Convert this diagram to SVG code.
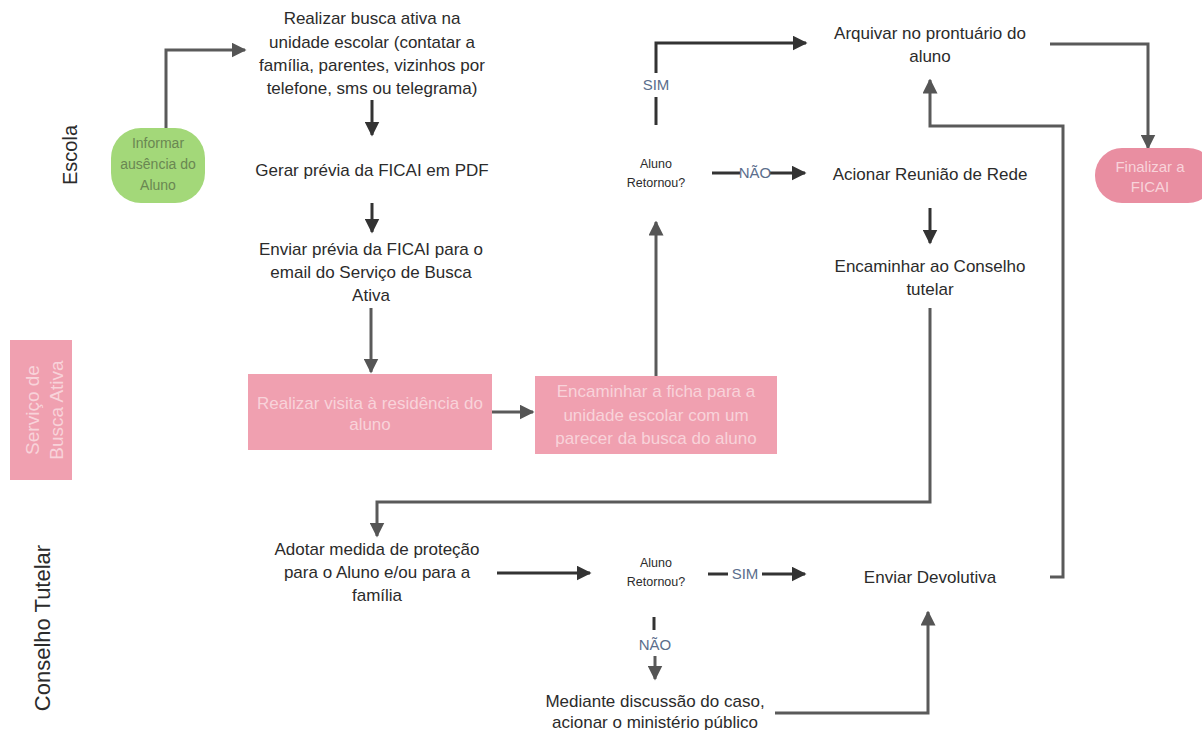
<svg xmlns="http://www.w3.org/2000/svg" width="1202" height="730" viewBox="0 0 1202 730">
<defs>
<marker id="ah" viewBox="0 0 10 10" refX="9" refY="5" markerWidth="5" markerHeight="5" orient="auto" markerUnits="strokeWidth">
<path d="M0,0 L10,5 L0,10 z" fill="#555"/>
</marker>
<marker id="ahd" viewBox="0 0 10 10" refX="9" refY="5" markerWidth="5" markerHeight="5" orient="auto" markerUnits="strokeWidth">
<path d="M0,0 L10,5 L0,10 z" fill="#333"/>
</marker>
<style>
text{font-family:"Liberation Sans","Open Sans",sans-serif;fill:#2b2b2b;text-anchor:middle}
.t{font-size:17px}
.s{font-size:12.5px}
.lane{font-size:20px}
.lbl{font-size:15px;fill:#5b6e8c}
.w{fill:#f8d3da;font-size:17px}
.g{fill:#6a8752;font-size:14px}
.c{fill:none;stroke:#5a5a5a;stroke-width:3;marker-end:url(#ah)}
.cd{fill:none;stroke:#333;stroke-width:3;marker-end:url(#ahd)}
.n{fill:none;stroke:#5a5a5a;stroke-width:3}
.nd{fill:none;stroke:#333;stroke-width:3}
.pink{fill:#f0a0b0}
</style>
</defs>
<rect width="1202" height="730" fill="#fff"/>

<g id="lanes">
<text class="lane" transform="translate(77,155) rotate(-90)">Escola</text>
<rect class="pink" x="10" y="340" width="62" height="140"/>
<text class="w" style="font-size:19px" transform="translate(39,410) rotate(-90)">Serviço de</text>
<text class="w" style="font-size:19px" transform="translate(63,410) rotate(-90)">Busca Ativa</text>
<text class="lane" style="font-size:22px" transform="translate(50,628) rotate(-90)">Conselho Tutelar</text>
</g>

<g id="connectors">
<path class="c" d="M166,128 V50 H245"/>
<path class="cd" d="M372,100 V135"/>
<path class="cd" d="M372,203 V232"/>
<path class="c" d="M371,308 V372"/>
<path class="c" d="M492,412 H533"/>
<path class="c" d="M656,376 V222"/>
<path class="nd" d="M656,125 V97"/>
<path class="cd" d="M656,73 V43 H806"/>
<path class="nd" d="M712,173 H740"/>
<path class="cd" d="M770,173 H805"/>
<path class="cd" d="M930,208 V243"/>
<path class="c" d="M930,308 V502 H377 V536"/>
<path class="c" d="M1050,44 H1148 V148"/>
<path class="c" d="M1050,577 H1063 V126 H930 V80"/>
<path class="cd" d="M497,573 H590"/>
<path class="nd" d="M708,574 H728"/>
<path class="cd" d="M762,574 H805"/>
<path class="nd" d="M654,617 V630"/>
<path class="c" d="M655,656 V679"/>
<path class="c" d="M775,713 H928 V612"/>
<text class="lbl" x="656" y="90">SIM</text>
<text class="lbl" x="755" y="178">NÃO</text>
<text class="lbl" x="745" y="579">SIM</text>
<text class="lbl" x="655" y="650">NÃO</text>
</g>

<g id="informar">
<rect x="111" y="128" width="94" height="75" rx="30" fill="#a3d879"/>
<text class="g" x="158" y="148">Informar</text>
<text class="g" x="158" y="169">ausência do</text>
<text class="g" x="158" y="190">Aluno</text>
</g>

<g id="busca">
<text class="t" x="372" y="24">Realizar busca ativa na</text>
<text class="t" x="372" y="48">unidade escolar (contatar a</text>
<text class="t" x="372" y="71">família, parentes, vizinhos por</text>
<text class="t" x="372" y="94">telefone, sms ou telegrama)</text>
</g>

<g id="gerar">
<text class="t" x="372" y="176">Gerar prévia da FICAI em PDF</text>
</g>

<g id="enviar">
<text class="t" x="371" y="255">Enviar prévia da FICAI para o</text>
<text class="t" x="371" y="278">email do Serviço de Busca</text>
<text class="t" x="371" y="301">Ativa</text>
</g>

<g id="visita">
<rect class="pink" x="248" y="374" width="244" height="76"/>
<text class="w" x="370" y="409">Realizar visita à residência do</text>
<text class="w" x="370" y="430">aluno</text>
</g>

<g id="encaminhar-ficha">
<rect class="pink" x="535" y="376" width="242" height="78"/>
<text class="w" x="656" y="397">Encaminhar a ficha para a</text>
<text class="w" x="656" y="421">unidade escolar com um</text>
<text class="w" x="656" y="444">parecer da busca do aluno</text>
</g>

<g id="decisao1">
<text class="s" x="656" y="168">Aluno</text>
<text class="s" x="656" y="187">Retornou?</text>
</g>

<g id="arquivar">
<text class="t" x="930" y="39">Arquivar no prontuário do</text>
<text class="t" x="930" y="62">aluno</text>
</g>

<g id="reuniao">
<text class="t" x="930" y="180">Acionar Reunião de Rede</text>
</g>

<g id="conselho">
<text class="t" x="930" y="272">Encaminhar ao Conselho</text>
<text class="t" x="930" y="295">tutelar</text>
</g>

<g id="finalizar">
<rect x="1095" y="148" width="120" height="55" rx="27" fill="#e98ea1"/>
<text class="w" style="font-size:15px" x="1150" y="172">Finalizar a</text>
<text class="w" style="font-size:15px" x="1150" y="192">FICAI</text>
</g>

<g id="adotar">
<text class="t" x="377" y="555">Adotar medida de proteção</text>
<text class="t" x="377" y="578">para o Aluno e/ou para a</text>
<text class="t" x="377" y="601">família</text>
</g>

<g id="decisao2">
<text class="s" x="656" y="567">Aluno</text>
<text class="s" x="656" y="586">Retornou?</text>
</g>

<g id="devolutiva">
<text class="t" x="930" y="583">Enviar Devolutiva</text>
</g>

<g id="ministerio">
<text class="t" x="655" y="707">Mediante discussão do caso,</text>
<text class="t" x="655" y="728">acionar o ministério público</text>
</g>
</svg>
